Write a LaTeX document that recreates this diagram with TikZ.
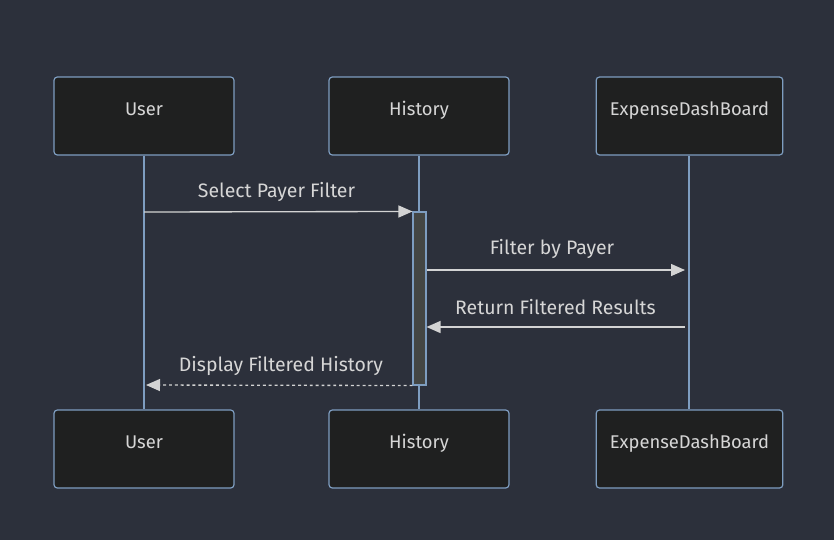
\documentclass[tikz,border=0pt]{standalone}
\usepackage{fontspec}
\setmainfont{Fira Sans}
\usetikzlibrary{arrows.meta, positioning, calc}
\definecolor{bgcol}{HTML}{2C303B}
\definecolor{boxfill}{HTML}{1F2020}
\definecolor{boxline}{HTML}{7E9DC0}
\definecolor{msgcol}{HTML}{D3D3D3}
\definecolor{txtcol}{HTML}{D6D6D6}
\definecolor{actfill}{HTML}{444644}
\tikzset{
    actor/.style={draw=boxline, fill=boxfill, line width=0.9pt, rounded corners=2.5pt,
        minimum width=135pt, minimum height=58.5pt, text=txtcol, text height=10pt, text depth=10.5pt,
        font=\fontsize{13.8}{16}\selectfont},
    lifeline/.style={draw=boxline, line width=1.4pt},
    msg/.style={draw=msgcol, line width=1pt, -{Triangle[length=10.5pt, width=9pt]}},
    reply/.style={msg, dash pattern=on 2.2pt off 2.2pt},
    msglabel/.style={text=txtcol, font=\fontsize{14.6}{17}\selectfont}
}
\begin{document}
\begin{tikzpicture}[x=0.75pt, y=-0.75pt]
    % Background
    \fill[bgcol] (0,0) rectangle (834,540);
    \useasboundingbox (0,0) rectangle (834,540);

    % Participants
    \node[actor] (userTop) at (144,116) {User};
    \node[actor] (histTop) at (419,116) {History};
    \node[actor, minimum width=140pt] (dashTop) at (689.5,116) {ExpenseDashBoard};
    \node[actor] (userBot) at (144,449) {User};
    \node[actor] (histBot) at (419,449) {History};
    \node[actor, minimum width=140pt] (dashBot) at (689.5,449) {ExpenseDashBoard};

    % Lifelines
    \draw[lifeline] (userTop.south) -- (userBot.north);
    \draw[lifeline] (histTop.south) -- (histBot.north);
    \draw[lifeline] (dashTop.south -| 689,0) -- (dashBot.north -| 689,0);

    % Activation of History
    \node[draw=boxline, fill=actfill, line width=0.8pt, minimum width=9.75pt,
        minimum height=129.75pt, inner sep=0pt] (act) at (419.5,298.5) {};

    % Message points
    \coordinate (m1) at (144,212);
    \coordinate (m2) at (685,270);
    \coordinate (m3) at (685,327);
    \coordinate (m4) at (146,385);

    % Messages
    \draw[msg] (m1) -- (act.north west);
    \node[msglabel] at (276.5,192) {Select Payer Filter};
    \draw[msg] (act.east |- m2) -- (m2);
    \node[msglabel] at (552,249) {Filter by Payer};
    \draw[msg] (m3) -- (act.east |- m3);
    \node[msglabel] at (555.5,307) {Return Filtered Results};
    \draw[reply] (act.south west) -- (m4);
    \node[msglabel] at (281,366) {Display Filtered History};
\end{tikzpicture}
\end{document}
